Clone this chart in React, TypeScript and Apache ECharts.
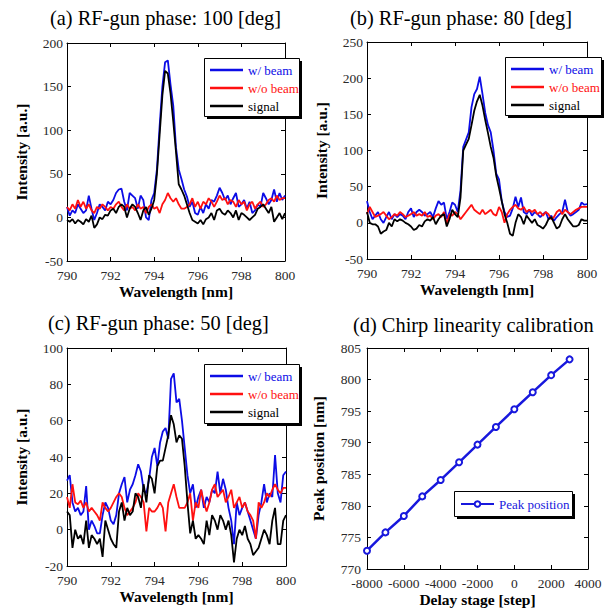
import React, { useEffect, useRef } from "react";
import * as echarts from "echarts";

// Sampling grid of the spectra (nm)
const wavelength: number[] = Array.from({ length: 81 }, (_, i) => 790 + i * 0.125);

// (a) RF-gun phase 100 deg
const aWithBeam = [
  12, 2, 8, 5, 15, 10, 5, 8, 25, 10,
  -3, 5, 15, 12, 8, 18, 15, 20, 28, 32,
  33, 18, 8, 28, 25, 22, 10, 25, 20, 0,
  -3, 20, 28, 55, 105, 150, 178, 180, 152, 128,
  80, 55, 44, 32, 24, 12, 18, 5, 3, 12,
  5, 15, 10, 20, 18, 25, 34, 28, 20, 25,
  15, 22, 28, 12, 15, 20, 10, 18, 5, 8,
  15, 12, 28, 22, 15, 20, 32, 18, 28, 20,
  25,
];
const aWithoutBeam = [
  12, 8, 15, 10, 20, 12, 18, 10, 15, 8,
  5, 12, 10, 15, 12, 8, 12, 10, 15, 18,
  12, 8, 15, 10, 12, 8, 15, 10, 12, 5,
  12, 15, 10, 12, 5, 15, 20, 28, 22, 18,
  22, 15, 10, 10, 12, 15, 22, 12, 18, 10,
  18, 15, 22, 18, 12, 18, 25, 20, 22, 15,
  20, 18, 12, 20, 15, 18, 8, 15, 18, 10,
  15, 18, 12, 15, 20, 22, 18, 25, 20, 22,
  22,
];
const aSignal = [
  -3, -5, -2, -7, -3, -5, -8, -2, -5, 2,
  -12, -8, 0, -2, 3, 2, 8, 10, 5, 12,
  15, 12, 0, 10, 15, 12, 5, -3, 8, 12,
  3, 10, 20, 50, 95, 140, 168, 165, 142, 110,
  75, 38, 32, 25, 15, 5, -3, -5, -7, -3,
  -8, -2, 0, 5, -3, 8, 10, 5, 3, 8,
  5, 0, 8, -3, 5, 3, 0, -3, 0, 3,
  10, 12, 15, 10, 5, 12, -5, 0, 5, -2,
  5,
];

// (b) RF-gun phase 80 deg
const bWithBeam = [
  30, 15, 5, 10, 15, 5, 0, 8, 15, 5,
  12, 8, 12, 10, 5, 15, 20, 8, 15, 18,
  15, 10, 12, 15, 8, 20, 30, 25, 28, 5,
  15, 28, 25, 15, 45, 105, 115, 125, 160, 178,
  185, 202, 178, 152, 135, 125, 100, 68, 60, 30,
  15, 8, 10, 20, 36, 22, 35, 15, 12, 18,
  10, 15, 12, 8, 12, 15, 5, 10, 3, 8,
  12, 15, 32, 15, 10, 12, 15, 18, 28, 25,
  26,
];
const bWithoutBeam = [
  12, 22, 15, 8, 10, 12, 15, 10, 5, 8,
  12, 10, 15, 12, 8, 10, 12, 15, 10, 12,
  10, 15, 8, 10, 5, 10, 12, 8, 15, -2,
  12, 10, 15, 12, 5, 10, 15, 20, 25, 18,
  15, 12, 18, 12, 15, 18, 12, 10, 22, 15,
  0, 12, 18, 22, 25, 20, 18, 22, 15, 18,
  15, 18, 12, 15, 10, 15, 12, 5, 8, 15,
  18, 12, 18, 15, 12, 15, 18, 20, 22, 22,
  22,
];
const bSignal = [
  15, 0, -2, -2, -5, -15, -12, -10, 0, -5,
  5, 2, 5, 3, 0, -2, -5, -10, -8, -3,
  -5, 2, 5, 3, 8, -2, 5, 10, 12, -5,
  5, 18, 12, 8, 35, 100, 108, 116, 135, 155,
  168, 177, 162, 142, 124, 105, 90, 65, 48, 30,
  12, 0, -15, -18, 0, 12, 8, -2, 10, 5,
  0, 5, -3, -5, -8, -3, 5, 8, 0, -8,
  -5, 5, 12, 5, 0, -5, -5, -3, 5, 3,
  3,
];

// (c) RF-gun phase 50 deg
const cWithBeam = [
  27, 30, 15, 10, 12, 8, 10, 24, 0, 5,
  2, -2, -2, 8, 15, 12, 5, 3, 8, 20,
  25, 29, 15, 22, 25, 30, 36, 32, 22, 20,
  28, 40, 45, 35, 48, 54, 56, 50, 83, 86,
  70, 72, 60, 45, 30, 20, 25, 12, 18, 22,
  12, 18, 15, 22, 20, 32, 20, 28, 22, 12,
  5, -8, 15, 8, 12, 15, 10, 5, 0, -5,
  8, 15, 25, 15, 20, 18, 41, 20, 15, 30,
  32,
];
const cWithoutBeam = [
  18, 12, 25, 15, 14, 16, 12, 15, 10, 12,
  10, 8, 5, 15, 12, 10, 12, 15, 18, 20,
  18, 12, 8, 10, 12, 15, 20, 18, 15, -1,
  12, 10, 10, 12, 15, 12, -1, 15, 20, 25,
  18, 12, 12, 12, 15, 20, 5, 15, 12, 22,
  15, 10, 15, 22, 25, 18, 20, 22, 15, 18,
  22, 12, 15, 18, 12, 15, 10, 8, 5, -5,
  15, 12, 15, 20, 18, 22, 25, 22, 20, 23,
  23,
];
const cSignal = [
  10, 8, -10, 0, -5, -3, -8, 5, -10, -3,
  -5, -8, -5, -15, 5, 0, -5, -8, -10, 10,
  15, 5, 12, 8, 10, 20, 18, 12, 25, 15,
  30, 28, 20, 35, 38, 38, 45, 52, 63, 58,
  48, 52, 50, 35, 15, -2, 5, -5, -3, -5,
  -8, 5, -3, 8, 5, 0, 8, 5, 0, 5,
  -3, -18, -5, 0, -3, 2, -5, -8, -14, -12,
  -10, -5, 0, -3, -8, 5, 12, -8, -8, 5,
  8,
];

// (d) Chirp linearity calibration
const delaySteps = [-8000, -7000, -6000, -5000, -4000, -3000, -2000, -1000, 0, 1000, 2000, 3000];
const peakPosition = [772.9, 775.8, 778.4, 781.5, 784.1, 786.9, 789.7, 792.5, 795.3, 798.0, 800.7, 803.2];

const titles = [
  "(a) RF-gun phase: 100 [deg]",
  "(b) RF-gun phase: 80 [deg]",
  "(c) RF-gun phase: 50 [deg]",
  "(d) Chirp linearity calibration",
];
const spectrumNames = ["w/ beam", "w/o beam", "signal"];

const FONT = "Liberation Serif";
const BLUE = "#0c0ce6";
const RED = "#ff1010";
const BLACK = "#000000";
const PEAK_BLUE = "#1818dd";

export default function App() {
  const ref = useRef<HTMLDivElement>(null);

  useEffect(() => {
    if (!ref.current) return;
    const chart = echarts.init(ref.current, undefined, { renderer: "svg" });

    const grids = [
      { left: 67, top: 43, width: 218, height: 218 },
      { left: 367, top: 42, width: 220, height: 217 },
      { left: 67, top: 348, width: 219, height: 218 },
      { left: 367, top: 348, width: 221, height: 221 },
    ];

    const axisRanges = [
      { x: [790, 800, 2], y: [-50, 200, 50] },
      { x: [790, 800, 2], y: [-50, 250, 50] },
      { x: [790, 800, 2], y: [-20, 100, 20] },
      { x: [-8000, 4000, 2000], y: [770, 805, 5] },
    ];

    const xNames = ["Wavelength [nm]", "Wavelength [nm]", "Wavelength [nm]", "Delay stage [step]"];
    const yNames = ["Intensity [a.u.]", "Intensity [a.u.]", "Intensity [a.u.]", "Peak position [nm]"];
    const yNameGaps = [38, 38, 38, 41];
    const xNameGaps = [22, 22, 22, 22];
    const xLabelMargins = [7, 7, 7, 7];
    const yLabelMargins = [4, 4, 4, 6];

    const common = {
      axisLine: { show: true, onZero: false, lineStyle: { color: "#000", width: 1 } },
      axisTick: { show: true, inside: true, length: 4, lineStyle: { color: "#000", width: 1 } },
      splitLine: { show: false },
    };
    const labelStyle = {
      fontFamily: FONT,
      fontSize: 13.5,
      color: "#2a2a2a",
      formatter: (v: number) => String(v),
    };
    const nameStyle = { fontFamily: FONT, fontSize: 15.5, fontWeight: "bold" as const, color: "#000" };

    const xAxis: any[] = [];
    const yAxis: any[] = [];
    for (let i = 0; i < 4; i++) {
      const r = axisRanges[i];
      xAxis.push({
        type: "value", gridIndex: i, position: "bottom",
        min: r.x[0], max: r.x[1], interval: r.x[2],
        name: xNames[i], nameLocation: "middle", nameGap: xNameGaps[i], nameTextStyle: nameStyle,
        axisLabel: { ...labelStyle, margin: xLabelMargins[i], showMinLabel: true, showMaxLabel: true },
        ...common,
      });
      yAxis.push({
        type: "value", gridIndex: i, position: "left",
        min: r.y[0], max: r.y[1], interval: r.y[2],
        name: yNames[i], nameLocation: "middle", nameGap: yNameGaps[i], nameTextStyle: nameStyle,
        axisLabel: { ...labelStyle, margin: yLabelMargins[i], showMinLabel: true, showMaxLabel: true },
        ...common,
      });
    }
    for (let i = 0; i < 4; i++) {
      const r = axisRanges[i];
      xAxis.push({
        type: "value", gridIndex: i, position: "top",
        min: r.x[0], max: r.x[1], interval: r.x[2],
        axisLabel: { show: false }, ...common,
      });
      yAxis.push({
        type: "value", gridIndex: i, position: "right",
        min: r.y[0], max: r.y[1], interval: r.y[2],
        axisLabel: { show: false }, ...common,
      });
    }

    const spectra = [
      [aWithBeam, aWithoutBeam, aSignal],
      [bWithBeam, bWithoutBeam, bSignal],
      [cWithBeam, cWithoutBeam, cSignal],
    ];
    const colors = [BLUE, RED, BLACK];
    const series: any[] = [];
    spectra.forEach((set, p) => {
      set.forEach((vals, k) => {
        series.push({
          type: "line",
          name: spectrumNames[k],
          xAxisIndex: p,
          yAxisIndex: p,
          data: wavelength.map((w, i) => [w, vals[i]]),
          symbol: "none",
          showSymbol: false,
          lineStyle: { color: colors[k], width: 1.8 },
          itemStyle: { color: colors[k] },
          silent: true,
        });
      });
    });
    series.push({
      type: "line",
      name: "Peak position",
      xAxisIndex: 3,
      yAxisIndex: 3,
      data: delaySteps.map((d, i) => [d, peakPosition[i]]),
      symbol: "emptyCircle",
      symbolSize: 6,
      lineStyle: { color: PEAK_BLUE, width: 2.5 },
      itemStyle: { color: PEAK_BLUE, borderColor: "#4a4af0", borderWidth: 1 },
      silent: true,
    });

    const legendBase = {
      orient: "vertical",
      itemWidth: 33,
      itemHeight: 2.5,
      itemGap: 4,
      padding: [5, 4, 4, 6],
      backgroundColor: "transparent",
      borderWidth: 0,
      selectedMode: false,
      z: 10,
      textStyle: { fontFamily: FONT, fontSize: 13, lineHeight: 14 },
    };
    const specLegendData = spectrumNames.map((n, k) => ({
      name: n,
      icon: "rect",
      textStyle: { color: colors[k] },
    }));
    const legendPos = [
      { left: 204, top: 58 },
      { left: 505, top: 57 },
      { left: 204, top: 364 },
    ];
    const legend: any[] = legendPos.map((pos) => ({ ...legendBase, ...pos, data: specLegendData }));
    legend.push({
      ...legendBase,
      left: 454,
      top: 491,
      itemHeight: 7,
      padding: [6, 6, 6, 6],
      data: [{ name: "Peak position", textStyle: { color: PEAK_BLUE } }],
    });

    // legend frames (box with drop shadow)
    const boxes = [
      { x: 204, y: 58, w: 95, h: 58 },
      { x: 505, y: 57, w: 96, h: 58 },
      { x: 204, y: 364, w: 95, h: 59 },
      { x: 454, y: 491, w: 118, h: 25 },
    ];
    const graphic: any[] = [];
    boxes.forEach((b) => {
      graphic.push({
        type: "rect", z: 5,
        shape: { x: b.x + 3, y: b.y + 3, width: b.w, height: b.h },
        style: { fill: "#000" }, silent: true,
      });
      graphic.push({
        type: "rect", z: 6,
        shape: { x: b.x + 0.5, y: b.y + 0.5, width: b.w, height: b.h },
        style: { fill: "#fff", stroke: "#000", lineWidth: 1 }, silent: true,
      });
    });

    const titlePos = [
      { left: 50, top: 8 },
      { left: 350, top: 8 },
      { left: 48, top: 313 },
      { left: 353, top: 315 },
    ];
    const title = titles.map((t, i) => ({
      text: t,
      ...titlePos[i],
      padding: 0,
      textStyle: { fontFamily: FONT, fontSize: 20.4, fontWeight: "normal", color: "#000" },
    }));

    chart.setOption({
      animation: false,
      backgroundColor: "#ffffff",
      title,
      legend,
      grid: grids,
      xAxis,
      yAxis,
      series,
      graphic,
    });

    return () => chart.dispose();
  }, []);

  return (
    <div
      ref={ref}
      style={{ position: "fixed", left: 0, top: 0, width: 607, height: 609 }}
    />
  );
}
